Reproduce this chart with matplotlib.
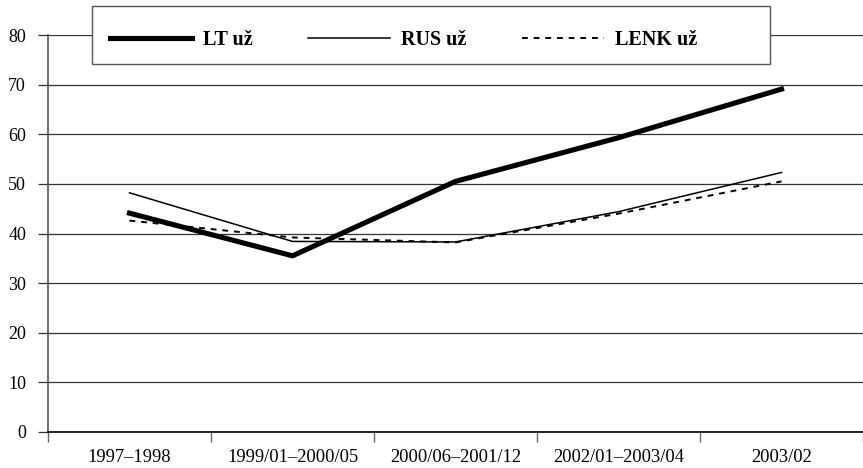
import matplotlib
matplotlib.use("Agg")
import matplotlib.pyplot as plt
from matplotlib.patches import Rectangle
import numpy as np

categories = ["1997–1998", "1999/01–2000/05", "2000/06–2001/12", "2002/01–2003/04", "2003/02"]
lt_uz = [44.1, 35.5, 50.5, 59.3, 69.1]
rus_uz = [48.2, 38.4, 38.3, 44.4, 52.3]
lenk_uz = [42.6, 39.2, 38.2, 44.0, 50.5]
series_names = ["LT už", "RUS už", "LENK už"]
yticks = [0, 10, 20, 30, 40, 50, 60, 70, 80]

plt.rcParams['font.family'] = ['Liberation Serif', 'DejaVu Serif']

W, H = 863, 468
fig = plt.figure(figsize=(W / 100, H / 100), dpi=100)
ax = fig.add_axes([48 / W, 1 - 432 / H, 1 - 48 / W, (432 - 35) / H])

x = np.arange(len(categories)) + 0.5
ax.plot(x, lt_uz, color='black', lw=3.7, label=series_names[0], zorder=4)
ax.plot(x, rus_uz, color='black', lw=1.1, label=series_names[1], zorder=3)
ax.plot(x, lenk_uz, color='black', lw=1.4, ls=(0, (3, 3)), label=series_names[2], zorder=3)

ax.set_xlim(0, len(categories))
ax.set_ylim(0, 80)
ax.set_yticks(yticks)
ax.set_yticklabels([str(v) for v in yticks], fontsize=13)
ax.yaxis.grid(True, color='#333333', lw=0.9)
ax.set_axisbelow(True)

ax.set_xticks(np.arange(len(categories) + 1))
ax.set_xticklabels([])
ax.set_xticks(x, minor=True)
ax.set_xticklabels(categories, minor=True, fontsize=13.3)
ax.tick_params(axis='x', which='minor', length=0, pad=12)
ax.tick_params(axis='x', which='major', length=7.2, width=1, color='#666666', direction='out')
ax.tick_params(axis='y', length=7.2, width=0.9, color='#333333', pad=8.6)

for s in ['top', 'right']:
    ax.spines[s].set_visible(False)
ax.spines['left'].set_color('#555555')
ax.spines['left'].set_linewidth(1.2)
ax.spines['bottom'].set_color('black')
ax.spines['bottom'].set_linewidth(1.2)

# legend box
rect = Rectangle((92 / W, 1 - 64 / H), 678 / W, 58 / H, transform=fig.transFigure,
                 facecolor='white', edgecolor='#555555', lw=1.0, zorder=3)
fig.patches.append(rect)

leg = fig.legend(loc='center left', bbox_to_anchor=(110 / W, 1 - 40 / H), ncol=3,
                 frameon=False,
                 prop={'family': 'Liberation Serif', 'weight': 'bold', 'size': 14.5},
                 handlelength=4.07, handletextpad=0.55, columnspacing=2.75,
                 borderpad=0, borderaxespad=0)
leg.set_zorder(5)

fig.savefig('out.png', dpi=100)
